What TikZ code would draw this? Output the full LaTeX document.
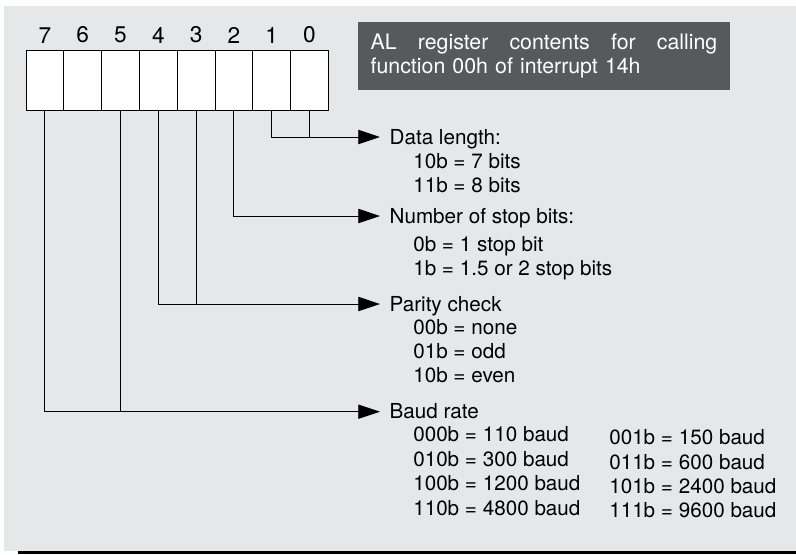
\documentclass[tikz,border=0pt]{standalone}
\usepackage{fontspec}
\setmainfont{TeX Gyre Heros}
\usetikzlibrary{positioning, arrows.meta}
\definecolor{panel}{HTML}{E6E7E8}
\definecolor{slate}{HTML}{58595B}
\tikzset{
  bitcell/.style={draw, fill=white, line width=0.75pt, minimum width=28.35pt, minimum height=45.2pt, inner sep=0pt, outer sep=0pt},
  bitno/.style={inner sep=0pt, font=\fontsize{17}{18}\selectfont},
  lead/.style={line width=0.7pt},
  leadarrow/.style={lead, -{Triangle[length=16.3pt, width=10.7pt]}},
  heading/.style={anchor=west, inner xsep=7pt, inner ysep=0pt, text height=10.5pt, text depth=0pt, font=\fontsize{15.5}{18}\selectfont},
  entry/.style={anchor=base west, inner sep=0pt, font=\fontsize{15.5}{18}\selectfont},
  caption/.style={fill=slate, text=white, text width=260pt, align=left, inner xsep=9.3pt, minimum height=50.8pt, font=\fontsize{16}{17.5}\selectfont}
}

\begin{document}
\begin{tikzpicture}[x=0.75pt, y=-0.75pt]
        \useasboundingbox (0,0) rectangle (796,554);
        \fill[panel] (4,6) rectangle (796,551);
        \fill[black] (18,551) rectangle (796,554);
        \node[caption] (title) at (544,55.85) {\hbox to 260pt{AL\hfill register\hfill contents\hfill for\hfill calling}\\function 00h of interrupt 14h};
        \foreach \i in {0,...,7} {
          \node[bitcell] (b\i) at ({44.9+37.8*(7-\i)},80.85) {};
          \node[bitno, above=5.5pt of b\i] (n\i) {\i};
        }
        \node[heading] (dl) at (380,137) {Data length:};
        \node[heading] (stop) at (380,216) {Number of stop bits:};
        \node[heading] (par) at (380,304) {Parity check};
        \node[heading] (baud) at (380,411.7) {Baud rate};
        \node[entry] (dl1) at (413,168.3) {10b = 7 bits};
        \node[entry] (dl2) at (413,192.3) {11b = 8 bits};
        \node[entry] (stop1) at (413,251) {0b = 1 stop bit};
        \node[entry] (stop2) at (413,275.7) {1b = 1.5 or 2 stop bits};
        \node[entry] (par1) at (413,334) {00b = none};
        \node[entry] (par2) at (413,358.3) {01b = odd};
        \node[entry] (par3) at (413,382.6) {10b = even};
        \foreach \t [count=\k] in {{000b = 110 baud}, {010b = 300 baud}, {100b = 1200 baud}, {110b = 4800 baud}}
          \node[entry] (bl\k) at (413,{417.4+24.4*\k}) {\t};
        \foreach \t [count=\k] in {{001b = 150 baud}, {011b = 600 baud}, {101b = 2400 baud}, {111b = 9600 baud}}
          \node[entry] (br\k) at (609,{420.6+24.2*\k}) {\t};
        \draw[leadarrow] (b1.south) |- (dl.west);
        \draw[lead] (b0.south) -- (b0.south |- dl.west);
        \draw[leadarrow] (b2.south) |- (stop.west);
        \draw[leadarrow] (b4.south) |- (par.west);
        \draw[lead] (b3.south) -- (b3.south |- par.west);
        \draw[leadarrow] (b7.south) |- (baud.west);
        \draw[lead] (b5.south) -- (b5.south |- baud.west);
      \end{tikzpicture}
\end{document}
